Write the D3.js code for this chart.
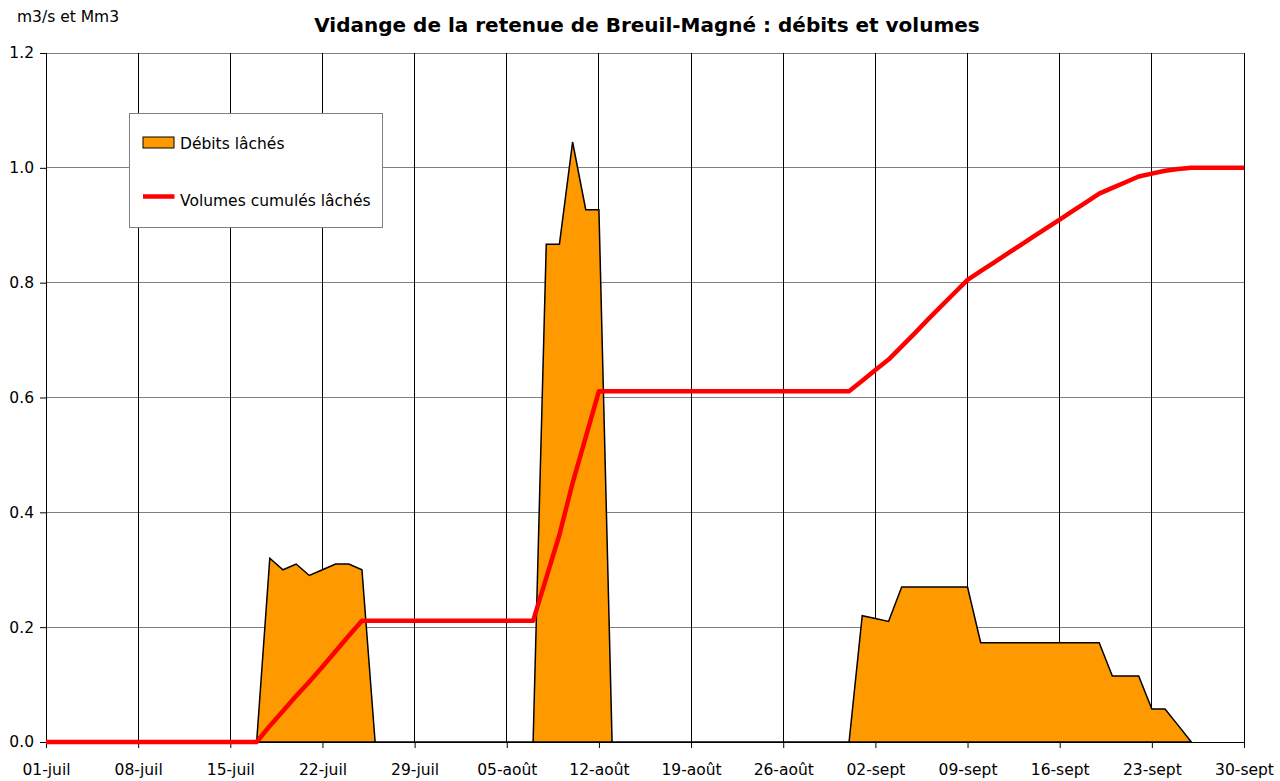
<!DOCTYPE html>
<html>
<head>
<meta charset="utf-8">
<script src="https://cdn.jsdelivr.net/npm/d3@7"></script>
<style>
  body { margin: 0; background: #fff; }
  svg text { font-family: "DejaVu Sans", sans-serif; fill: #000; }
</style>
</head>
<body>
<script>
// jours comptés depuis le 01-juil
var tickJours = [0, 7, 14, 21, 28, 35, 42, 49, 56, 63, 70, 77, 84, 91]
var tickLabels = ["01-juil", "08-juil", "15-juil", "22-juil", "29-juil", "05-août", "12-août",
    "19-août", "26-août", "02-sept", "09-sept", "16-sept", "23-sept", "30-sept"]
var yTicks = [0, 0.2, 0.4, 0.6, 0.8, 1.0, 1.2]

// Débits lâchés (m3/s)
var debitJours = [16, 17, 18, 19, 20, 21, 22, 23, 24, 25,
    37, 38, 39, 40, 41, 42, 43,
    61, 62, 63, 64, 65, 66, 67, 68, 69, 70, 71, 72, 73, 74, 75, 76, 77, 78, 79, 80,
    81, 82, 83, 84, 85, 86, 87]
var debitValeurs = [0, 0.32, 0.30, 0.31, 0.29, 0.30, 0.31, 0.31, 0.30, 0,
    0, 0.867, 0.867, 1.045, 0.927, 0.927, 0,
    0, 0.22, 0.215, 0.21, 0.27, 0.27, 0.27, 0.27, 0.27, 0.27, 0.173, 0.173, 0.173, 0.173, 0.173, 0.173, 0.173, 0.173, 0.173, 0.173,
    0.115, 0.115, 0.115, 0.0575, 0.0575, 0.029, 0]

// Volumes cumulés lâchés (Mm3)
var volumeJours = [0, 16, 17, 18, 19, 20, 21, 22, 23, 24,
    37, 38, 39, 40, 41, 42,
    61, 62, 63, 64, 65, 66, 67, 68, 69, 70, 71, 72, 73, 74, 75, 76, 77, 78, 79, 80,
    81, 82, 83, 84, 85, 86, 87, 91]
var volumeValeurs = [0, 0, 0.028, 0.054, 0.080, 0.105, 0.131, 0.158, 0.185, 0.211,
    0.211, 0.286, 0.361, 0.451, 0.531, 0.611,
    0.611, 0.629, 0.648, 0.666, 0.689, 0.712, 0.736, 0.759, 0.782, 0.805, 0.820, 0.835, 0.850, 0.865, 0.880, 0.895, 0.910, 0.925, 0.940, 0.955,
    0.965, 0.975, 0.985, 0.990, 0.995, 0.998, 1.0, 1.0]

var width = 1280, height = 781
var margin = {top: 53, right: 36, bottom: 39, left: 46}
var plotW = width - margin.left - margin.right
var plotH = height - margin.top - margin.bottom

var svg = d3.select("body").append("svg")
    .attr("width", width).attr("height", height)

var x = d3.scaleLinear().domain([0, 91]).range([0, plotW])
var y = d3.scaleLinear().domain([0, 1.2]).range([plotH, 0])

var g = svg.append("g").attr("transform", "translate(" + margin.left + "," + margin.top + ")")

// grille horizontale
g.selectAll("line.hgrid").data(yTicks).enter().append("line")
    .attr("class", "hgrid")
    .attr("x1", 0).attr("x2", plotW)
    .attr("y1", function (d) { return y(d) }).attr("y2", function (d) { return y(d) })
    .attr("stroke", "#808080").attr("stroke-width", 1)
    .attr("shape-rendering", "crispEdges")

// grille verticale
g.selectAll("line.vgrid").data(tickJours).enter().append("line")
    .attr("class", "vgrid")
    .attr("x1", function (d) { return x(d) }).attr("x2", function (d) { return x(d) })
    .attr("y1", 0).attr("y2", plotH)
    .attr("stroke", "#000").attr("stroke-width", 1)
    .attr("shape-rendering", "crispEdges")

// aire des débits
var debits = debitJours.map(function (d, i) { return {j: d, v: debitValeurs[i]} })
var area = d3.area()
    .x(function (d) { return x(d.j) })
    .y0(y(0))
    .y1(function (d) { return y(d.v) })
g.append("path")
    .datum(debits)
    .attr("d", area)
    .attr("fill", "#ff9900")
    .attr("stroke", "#000")
    .attr("stroke-width", 1.5)
    .attr("stroke-linejoin", "miter")

// axes
var xAxis = d3.axisBottom(x).tickValues(tickJours)
    .tickFormat(function (d, i) { return tickLabels[i] })
    .tickSize(6).tickPadding(16)
var yAxis = d3.axisLeft(y).tickValues(yTicks)
    .tickFormat(d3.format(".1f"))
    .tickSize(6).tickPadding(6)

var gx = g.append("g").attr("transform", "translate(0," + plotH + ")").call(xAxis)
gx.select(".domain").attr("stroke", "#000")
gx.selectAll("text").attr("font-size", 15.5)
    .style("font-family", "\"DejaVu Sans\", sans-serif")

var gy = g.append("g").call(yAxis)
gy.select(".domain").attr("stroke", "#000")
gy.selectAll("text").attr("font-size", 15.5)
    .style("font-family", "\"DejaVu Sans\", sans-serif")

// volumes cumulés
var volumes = volumeJours.map(function (d, i) { return {j: d, v: volumeValeurs[i]} })
var line = d3.line()
    .x(function (d) { return x(d.j) })
    .y(function (d) { return y(d.v) })
g.append("path")
    .datum(volumes)
    .attr("d", line)
    .attr("fill", "none")
    .attr("stroke", "#ff0000")
    .attr("stroke-width", 4.5)
    .attr("stroke-linejoin", "round")

// légende
var leg = svg.append("g").attr("transform", "translate(129.5,113.5)")
leg.append("rect").attr("width", 253).attr("height", 114)
    .attr("fill", "#fff").attr("stroke", "#808080").attr("stroke-width", 1)
leg.append("rect").attr("x", 13.5).attr("y", 23.5).attr("width", 31).attr("height", 11)
    .attr("fill", "#ff9900").attr("stroke", "#000").attr("stroke-width", 1)
leg.append("text").attr("x", 50.5).attr("y", 35).attr("font-size", 15.5).text("Débits lâchés")
leg.append("line").attr("x1", 13.5).attr("x2", 45).attr("y1", 83).attr("y2", 83)
    .attr("stroke", "#ff0000").attr("stroke-width", 4.5)
leg.append("text").attr("x", 50.5).attr("y", 92).attr("font-size", 15.5).text("Volumes cumulés lâchés")

// titres
svg.append("text").attr("x", 647).attr("y", 32)
    .attr("text-anchor", "middle").attr("font-size", 20).attr("font-weight", "bold")
    .text("Vidange de la retenue de Breuil-Magné : débits et volumes")
svg.append("text").attr("x", 17).attr("y", 22).attr("font-size", 15.5).text("m3/s et Mm3")
</script>
</body>
</html>
